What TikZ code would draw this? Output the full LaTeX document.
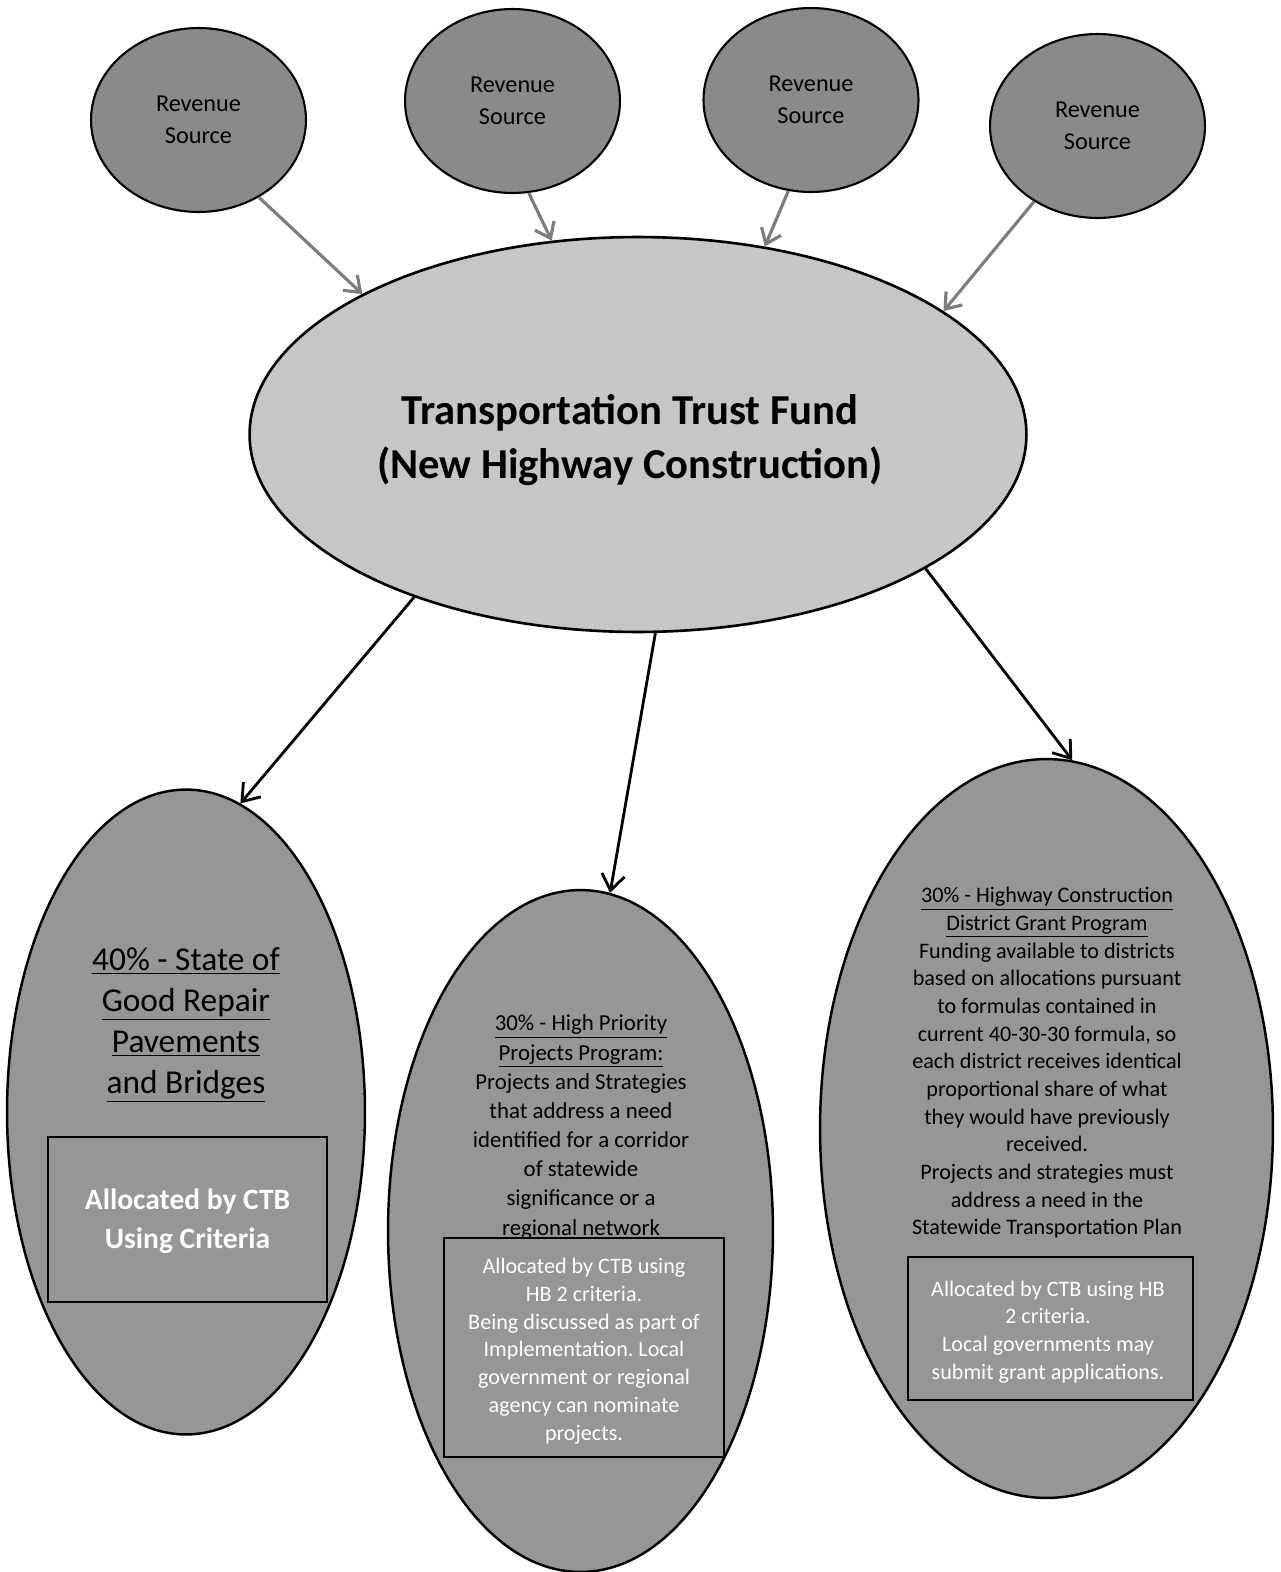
\documentclass[tikz,border=0pt]{standalone}
\usepackage{fontspec}
\setmainfont{Carlito}
\usetikzlibrary{shapes.geometric,arrows.meta}
\definecolor{rsfill}{RGB}{138,138,138}
\definecolor{ttffill}{RGB}{198,198,198}
\definecolor{pfill}{RGB}{150,150,150}
\definecolor{garrow}{RGB}{125,125,125}
\newcommand\ulx[1]{\underline{#1}}
\frenchspacing
\begin{document}
\begin{tikzpicture}[x=0.02cm,y=-0.02cm,
  rev/.style={ellipse,draw=black,line width=1.2pt,fill=rsfill,minimum width=4.3cm,minimum height=3.68cm,inner sep=0pt,align=center,font=\fontsize{13.8}{18}\selectfont},
  fund/.style={ellipse,draw=black,line width=1.5pt,fill=ttffill,minimum width=15.54cm,minimum height=7.9cm,inner sep=0pt},
  prog/.style={ellipse,draw=black,line width=1.4pt,fill=pfill,inner sep=0pt},
  pbox/.style={rectangle,draw=black,line width=1.4pt,fill=pfill,inner sep=0pt},
  txt/.style={align=center,inner sep=0pt},
  garr/.style={draw=garrow,line width=1.8pt,-{Straight Barb[length=8pt,width=12pt]}},
  barr/.style={draw=black,line width=1.6pt,-{Straight Barb[length=9pt,width=13pt]}}]
\useasboundingbox (0,0) rectangle (1281,1572);
% revenue sources
\node[rev] (rs1) at (198.5,120) {Revenue\\Source};
\node[rev] (rs2) at (512.5,101) {Revenue\\Source};
\node[rev] (rs3) at (811,100) {Revenue\\Source};
\node[rev] (rs4) at (1097.5,126) {Revenue\\Source};
% fund
\node[fund] (ttf) at (638,434.5) {};
\node[txt,font=\bfseries\fontsize{24.3}{31}\selectfont] (ttft) at (630,440)
  {Transportation Trust Fund\\(New Highway Construction)};
% programs
\node[prog,minimum width=7.16cm,minimum height=12.9cm] (pl) at (186,1112) {};
\node[prog,minimum width=7.7cm,minimum height=13.64cm] (pm) at (580.5,1231) {};
\node[prog,minimum width=9.06cm,minimum height=14.78cm] (pr) at (1046.5,1128.5) {};
% boxes
\node[pbox,minimum width=5.58cm,minimum height=3.3cm] (bl) at (187.5,1219.5) {};
\node[pbox,minimum width=5.6cm,minimum height=4.38cm] (bm) at (584,1347.5) {};
\node[pbox,minimum width=5.7cm,minimum height=2.86cm] (br) at (1050.5,1328.5) {};
% texts
\node[txt,font=\fontsize{19}{23.3}\selectfont] (tl) at (186,1025)
  {\ulx{40\% - State of}\\\ulx{Good Repair}\\\ulx{Pavements}\\\ulx{and Bridges}};
\node[txt,text=white,font=\bfseries\fontsize{16.8}{22}\selectfont] (xl) at (187.5,1221)
  {Allocated by CTB\\Using Criteria};
\node[txt,font=\fontsize{13}{16.6}\selectfont] (tm) at (581,1127)
  {\ulx{30\% - High Priority}\\\ulx{Projects Program:}\\Projects and Strategies\\that address a need\\identified for a corridor\\of statewide\\significance or a\\regional network};
\node[txt,text=white,font=\fontsize{12.6}{15.8}\selectfont] (xm) at (584,1351)
  {Allocated by CTB using\\HB 2 criteria.\\Being discussed as part of\\Implementation. Local\\government or regional\\agency can nominate\\projects.};
\node[txt,font=\fontsize{12.6}{15.75}\selectfont] (tr) at (1047,1063)
  {\ulx{30\% - Highway Construction}\\\ulx{District Grant Program}\\Funding available to districts\\based on allocations pursuant\\to formulas contained in\\current 40-30-30 formula, so\\each district receives identical\\proportional share of what\\they would have previously\\received.\\Projects and strategies must\\address a need in the\\Statewide Transportation Plan};
\node[txt,text=white,font=\fontsize{12.6}{15.8}\selectfont] (xr) at (1048,1332)
  {Allocated by CTB using HB\\2 criteria.\\Local governments may\\submit grant applications.};
% connectors
\draw[garr] (rs1.-52) -- (ttf.153);
\draw[garr] (rs2.-80) -- (ttf.114);
\draw[garr] (rs3.-104) -- (ttf.56);
\draw[garr] (rs4.-130) -- (ttf.22);
\draw[barr] (ttf.-144) -- (pl.80);
\draw[barr] (ttf.-85) -- (pm.85.5);
\draw[barr] (ttf.-25) -- (pr.86.7);
\end{tikzpicture}
\end{document}
